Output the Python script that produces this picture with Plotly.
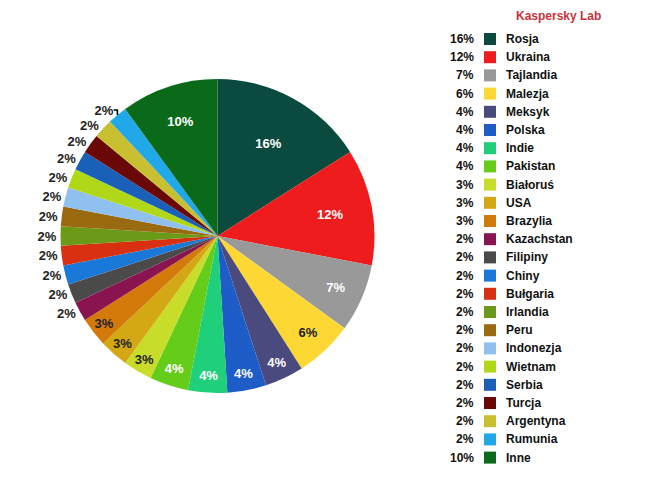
import plotly.graph_objects as go

countries = ["Rosja", "Ukraina", "Tajlandia", "Malezja", "Meksyk", "Polska", "Indie",
             "Pakistan", "Białoruś", "USA", "Brazylia", "Kazachstan", "Filipiny", "Chiny",
             "Bułgaria", "Irlandia", "Peru", "Indonezja", "Wietnam", "Serbia", "Turcja",
             "Argentyna", "Rumunia", "Inne"]
shares = [16, 12, 7, 6, 4, 4, 4, 4, 3, 3, 3, 2, 2, 2, 2, 2, 2, 2, 2, 2, 2, 2, 2, 10]
colors = ["#0b4a3e", "#ee1c1c", "#999999", "#fdd835", "#4a4a7e", "#1e5cc8", "#1fcf7a",
          "#66cc1a", "#c8dc2a", "#d4a815", "#d47a0a", "#8a1450", "#4a4a4a", "#1a78d8",
          "#d83010", "#6a9a18", "#9a6a10", "#90c0f0", "#b0d818", "#1a60b8", "#6a0808",
          "#c8c030", "#20a8e8", "#0a6a1a"]
dark_text = {"Malezja", "Białoruś", "USA", "Brazylia"}

text_colors = ["#222222" if c in dark_text else "white" for c in countries]
positions = ["outside" if s <= 2 else "inside" for s in shares]
text_colors = ["#222222" if p == "outside" else t for p, t in zip(positions, text_colors)]

fig = go.Figure(go.Pie(
    labels=countries, values=shares, marker=dict(colors=colors),
    sort=False, direction="clockwise", rotation=0,
    texttemplate="<b>%{value}%</b>", textposition=positions,
    textfont=dict(family="Liberation Sans", size=13, color=text_colors),
    insidetextorientation="horizontal",
    domain=dict(x=[52 / 650, 367 / 650], y=[1 - 385 / 500, 1 - 71 / 500]),
    showlegend=False, hoverinfo="label+percent",
))

fig.add_annotation(x=550, y=8, xref="x", yref="y", text="<b>Kaspersky Lab</b>",
                   showarrow=False, font=dict(family="Liberation Sans", size=12, color="#c8323c"))
for i, (c, s, col) in enumerate(zip(countries, shares, colors)):
    y = 31 + i * 18.2
    fig.add_annotation(x=468, y=y, xref="x", yref="y", text=f"<b>{s}%</b>", xanchor="right",
                       showarrow=False, font=dict(family="Liberation Sans", size=12, color="#111"))
    fig.add_shape(type="rect", x0=476, x1=488, y0=y - 6, y1=y + 6, xref="x", yref="y",
                  fillcolor=col, line=dict(width=0))
    fig.add_annotation(x=496, y=y, xref="x", yref="y", text=f"<b>{c}</b>", xanchor="left",
                       showarrow=False, font=dict(family="Liberation Sans", size=12, color="#111"))

fig.update_layout(
    width=650, height=500, margin=dict(l=0, r=0, t=0, b=0),
    paper_bgcolor="white", plot_bgcolor="white",
    xaxis=dict(range=[0, 650], visible=False, fixedrange=True),
    yaxis=dict(range=[500, 0], visible=False, fixedrange=True),
)
fig.write_html("out.html")
